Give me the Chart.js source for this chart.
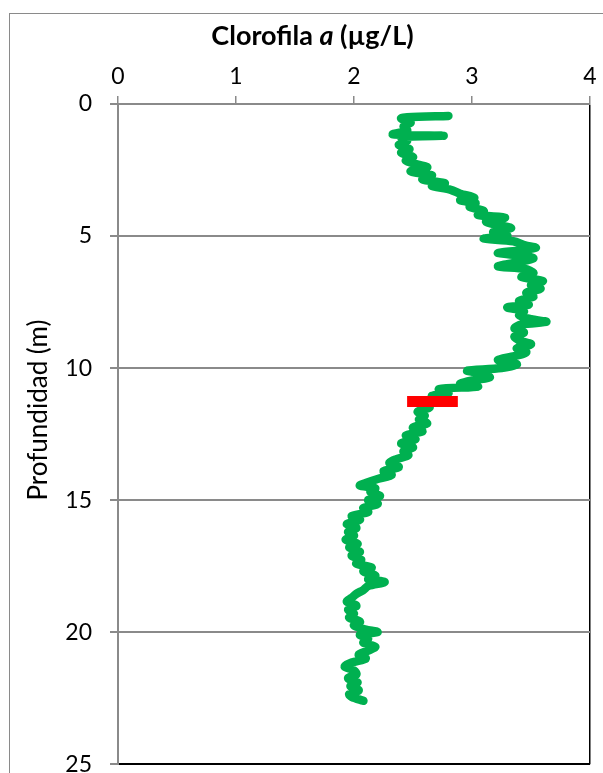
<!DOCTYPE html>
<html>
<head>
<meta charset="utf-8">
<script src="https://cdn.jsdelivr.net/npm/chart.js@4.4.1/dist/chart.umd.min.js"></script>
<style>
  body { margin: 0; background: #fff; }
  #wrap { position: relative; width: 603px; height: 773px; overflow: hidden; }
  #frame { position: absolute; left: 9px; top: 13px; width: 640px; height: 800px; border: 1px solid #8a8a8a; pointer-events: none; }
  #title { position: absolute; left: 0; top: 18px; width: 625px; line-height: 30px; text-align: center; font: bold 27px Lato, sans-serif; color: #000; }
  #ytitle { position: absolute; left: -113px; top: 394px; width: 300px; line-height: 30px; text-align: center; font: 26px Lato, sans-serif; color: #000; transform: rotate(-90deg); }
</style>
</head>
<body>
<div id="wrap">
  <canvas id="chart" width="603" height="796"></canvas>
  <div id="frame"></div>
  <div id="title">Clorofila <i>a</i> (µg/L)</div>
  <div id="ytitle">Profundidad (m)</div>
</div>
<script>
// profile: depth (m) and chlorophyll a (µg/L)
const depths = [
  0.45, 0.50, 0.55, 0.70, 0.85, 1.00, 1.15, 1.20, 1.25, 1.40, 1.55, 1.70, 1.85, 2.00, 2.15, 2.30, 2.40, 2.55, 2.70, 2.85,
  3.00, 3.10, 3.25, 3.40, 3.55, 3.65, 3.75, 3.90, 4.05, 4.20, 4.30, 4.45, 4.60, 4.70, 4.85, 5.00, 5.10, 5.20, 5.35, 5.45,
  5.55, 5.65, 5.75, 5.85, 6.00, 6.15, 6.25, 6.40, 6.55, 6.70, 6.85, 7.00, 7.15, 7.30, 7.45, 7.60, 7.70, 7.85, 8.00, 8.15,
  8.25, 8.35, 8.50, 8.65, 8.80, 8.95, 9.10, 9.25, 9.40, 9.55, 9.70, 9.85, 10.00, 10.10, 10.20, 10.35, 10.45, 10.60, 10.70, 10.80,
  10.95, 11.05, 11.20, 11.35, 11.50, 11.65, 11.80, 11.95, 12.10, 12.25, 12.40, 12.55, 12.70, 12.85, 13.00, 13.15, 13.30, 13.45, 13.60, 13.75,
  13.90, 14.05, 14.20, 14.35, 14.45, 14.55, 14.70, 14.85, 15.00, 15.15, 15.30, 15.45, 15.60, 15.75, 15.90, 16.05, 16.20, 16.35, 16.50, 16.65,
  16.80, 16.95, 17.10, 17.25, 17.40, 17.55, 17.70, 17.85, 18.00, 18.10, 18.25, 18.40, 18.55, 18.70, 18.85, 19.00, 19.15, 19.30, 19.45, 19.60,
  19.75, 19.90, 20.00, 20.10, 20.25, 20.40, 20.55, 20.70, 20.85, 21.00, 21.15, 21.30, 21.45, 21.60, 21.75, 21.90, 22.05, 22.20, 22.35, 22.45,
  22.60
];
const chlorophyll = [
  2.80, 2.45, 2.40, 2.48, 2.42, 2.45, 2.33, 2.76, 2.40, 2.45, 2.38, 2.47, 2.40, 2.50, 2.44, 2.55, 2.62, 2.48, 2.66, 2.58,
  2.77, 2.66, 2.82, 2.90, 3.02, 2.90, 3.03, 2.98, 3.10, 3.05, 3.28, 3.12, 3.24, 3.33, 3.18, 3.30, 3.10, 3.35, 3.45, 3.54,
  3.40, 3.22, 3.45, 3.52, 3.38, 3.22, 3.45, 3.52, 3.42, 3.60, 3.50, 3.58, 3.46, 3.52, 3.40, 3.48, 3.30, 3.44, 3.40, 3.50,
  3.63, 3.42, 3.36, 3.44, 3.36, 3.40, 3.50, 3.38, 3.46, 3.36, 3.22, 3.38, 3.25, 2.96, 3.08, 3.15, 3.02, 2.90, 3.05, 2.72,
  2.80, 2.66, 2.70, 2.58, 2.64, 2.54, 2.60, 2.55, 2.62, 2.50, 2.58, 2.44, 2.52, 2.40, 2.50, 2.42, 2.46, 2.36, 2.30, 2.38,
  2.25, 2.32, 2.20, 2.10, 2.05, 2.18, 2.14, 2.22, 2.12, 2.20, 2.08, 2.12, 1.98, 2.05, 1.94, 2.02, 1.95, 2.00, 1.93, 2.03,
  1.96, 2.05, 1.98, 2.06, 2.02, 2.15, 2.08, 2.18, 2.12, 2.26, 2.12, 2.08, 2.02, 1.98, 1.94, 2.02, 1.95, 2.00, 1.96, 2.05,
  2.00, 2.10, 2.20, 2.05, 2.12, 2.08, 2.18, 2.12, 2.04, 2.10, 1.98, 1.92, 2.00, 2.02, 1.95, 2.03, 1.97, 2.04, 1.96, 1.98,
  2.08
];
// red marker bar
const markerDepth = 11.27;
const markerRange = [2.45, 2.88];

const xTicks = [0, 1, 2, 3, 4];
const yTicks = [0, 5, 10, 15, 20, 25];

const profile = depths.map((d, i) => ({ x: chlorophyll[i], y: d }));
const marker = markerRange.map(v => ({ x: v, y: markerDepth }));

const FONT = 'Lato, sans-serif';

new Chart(document.getElementById('chart').getContext('2d'), {
  type: 'scatter',
  data: {
    datasets: [{
      data: marker,
      showLine: true,
      borderColor: '#ff0000',
      borderWidth: 11,
      borderCapStyle: 'butt',
      pointRadius: 0,
      order: 0
    }, {
      data: profile,
      showLine: true,
      borderColor: '#00b050',
      borderWidth: 8.5,
      borderCapStyle: 'round',
      borderJoinStyle: 'round',
      tension: 0.3,
      pointRadius: 0,
      order: 1
    }]
  },
  options: {
    responsive: false,
    animation: false,
    layout: { padding: { left: 0, right: 13, top: 0, bottom: 9 } },
    plugins: { legend: { display: false }, tooltip: { enabled: false } },
    scales: {
      x: {
        type: 'linear',
        position: 'top',
        min: 0, max: 4,
        afterBuildTicks: s => { s.ticks = xTicks.map(v => ({ value: v })); },
        afterFit: s => { s.height = 104; },
        ticks: { color: '#000', font: { family: FONT, size: 23 }, padding: 6, maxRotation: 0 },
        grid: {
          color: c => c.tick && c.tick.value === 4 ? '#000' : 'rgba(0,0,0,0)',
          tickColor: '#8a8a8a',
          tickLength: 8,
          lineWidth: 1.5
        },
        border: { color: '#8a8a8a', width: 2 }
      },
      y: {
        type: 'linear',
        reverse: true,
        min: 0, max: 25,
        afterBuildTicks: s => { s.ticks = yTicks.map(v => ({ value: v })); },
        afterFit: s => { s.width = 118; },
        ticks: { color: '#000', font: { family: FONT, size: 23 }, padding: 18 },
        grid: {
          color: c => {
            if (!c.tick) return 'rgba(0,0,0,0)';
            if (c.tick.value === 25) return '#000';
            if (c.tick.value === 0) return 'rgba(0,0,0,0)';
            return '#8a8a8a';
          },
          tickColor: '#8a8a8a',
          tickLength: 8,
          lineWidth: 2
        },
        border: { color: '#8a8a8a', width: 2 }
      }
    }
  }
});
</script>
</body>
</html>
